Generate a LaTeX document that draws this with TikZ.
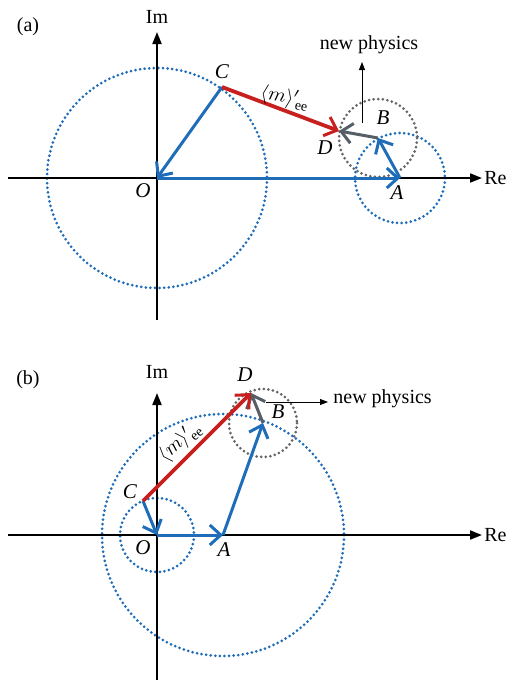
\documentclass[tikz,border=0pt]{standalone}
\usepackage{fontspec}
\setmainfont{Liberation Serif}
\usetikzlibrary{positioning,arrows.meta,calc}
\definecolor{vecblue}{HTML}{1F6DB8}
\definecolor{vecred}{HTML}{C8201E}
\definecolor{vecgray}{HTML}{565E68}
\definecolor{ringgray}{HTML}{666666}

\tikzset{
  axisline/.style={line width=0.9pt, -{Triangle[length=6pt,width=4.5pt]}},
  npline/.style={line width=0.45pt, -{Triangle[length=4pt,width=3pt]}},
  vec/.style={line width=1.5pt, -{Straight Barb[length=5.5pt,width=10pt,line width=1.5pt]}},
  ring/.style={line width=1.5pt, line cap=round, dash pattern=on 0pt off 2.3pt},
  lbl/.style={font=\fontsize{10}{12}\selectfont, inner sep=0pt},
  pt/.style={lbl, font=\fontsize{10.5}{12}\selectfont\itshape}
}

\begin{document}
\begin{tikzpicture}[x=0.5pt,y=-0.5pt]
\useasboundingbox (0,0) rectangle (510,681);
% (a)
\coordinate (Oa) at (157,178);
\coordinate (Ca) at (222,87);
\coordinate (Aa) at (400,178);
\coordinate (Ba) at (378,138);
\coordinate (Da) at (339,131);
\draw[ring, vecblue] (Oa) circle[radius=110];
\draw[ring, vecblue] (Aa) circle[radius=45];
\draw[ring, ringgray] (Ba) circle[radius=39];
\coordinate (reA0) at (8,178);
\coordinate (reA1) at (482,178);
\coordinate (imA0) at (157,320);
\coordinate (imA1) at (157,32);
\draw[axisline] (reA0) -- (reA1);
\draw[axisline] (imA0) -- (imA1);
\node[lbl, anchor=west] (reA) at (484,178) {Re};
\node[lbl] (imA) at (157,17) {Im};
\node[lbl] (tagA) at (28,27) {(a)};
\draw[vec, vecblue] (Oa) -- (Aa);
\draw[vec, vecblue] (Ca) -- (Oa);
\draw[vec, vecblue] (Aa) -- (Ba);
\draw[vec, vecgray] (Ba) -- (Da);
\draw[vec, vecred, line width=1.9pt] (Ca) -- (Da);
\coordinate (npA0) at (362,123);
\coordinate (npA1) at (362,62);
\draw[npline] (npA0) -- (npA1);
\node[lbl] (npA) at (369,45) {new physics};
\node[pt] (lOa) at (143,191) {O};
\node[pt] (lAa) at (397,193) {A};
\node[pt] (lBa) at (383,118) {B};
\node[pt] (lCa) at (222,72) {C};
\node[pt] (lDa) at (325,148) {D};
\node[lbl, rotate=-10] (mA) at (285,98) {$\langle m\rangle'_{\,\mathrm{ee}}$};
% (b)
\coordinate (Ob) at (157,535);
\coordinate (Cb) at (143,501);
\coordinate (Ab) at (223,535);
\coordinate (Bb) at (263,423);
\coordinate (Db) at (251,393);
\draw[ring, vecblue] (Ob) circle[radius=37];
\draw[ring, vecblue] (Ab) circle[radius=121];
\draw[ring, ringgray] (Bb) circle[radius=34];
\coordinate (reB0) at (8,535);
\coordinate (reB1) at (482,535);
\coordinate (imB0) at (157,680);
\coordinate (imB1) at (157,393);
\draw[axisline] (reB0) -- (reB1);
\draw[axisline] (imB0) -- (imB1);
\node[lbl, anchor=west] (reB) at (484,535) {Re};
\node[lbl] (imB) at (157,372) {Im};
\node[lbl] (tagB) at (28,380) {(b)};
\draw[vec, vecblue] (Cb) -- (Ob);
\draw[vec, vecblue] (Ob) -- (Ab);
\draw[vec, vecblue] (Ab) -- (Bb);
\draw[vec, vecgray] (Bb) -- (Db);
\draw[vec, vecred, line width=1.9pt] (Cb) -- (Db);
\coordinate (npB0) at (266,402);
\coordinate (npB1) at (328,402);
\draw[npline] (npB0) -- (npB1);
\node[lbl, anchor=west] (npB) at (333,399) {new physics};
\node[pt] (lOb) at (143,548) {O};
\node[pt] (lAb) at (224,550) {A};
\node[pt] (lBb) at (278,412) {B};
\node[pt] (lCb) at (130,492) {C};
\node[pt] (lDb) at (245,375) {D};
\node[lbl, rotate=42] (mB) at (180,442) {$\langle m\rangle'_{\,\mathrm{ee}}$};
\end{tikzpicture}
\end{document}
